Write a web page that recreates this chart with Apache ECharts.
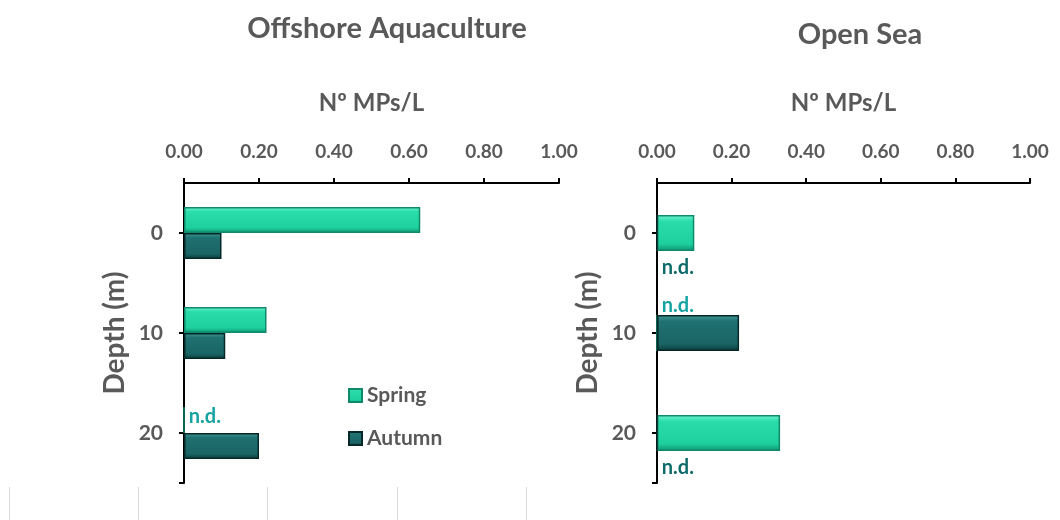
<!DOCTYPE html>
<html>
<head>
<meta charset="utf-8">
<title>Microplastics by depth</title>
<script src="https://cdn.jsdelivr.net/npm/echarts@6/dist/echarts.min.js"></script>
<style>
  html, body { margin: 0; padding: 0; background: #ffffff; }
  #chart { width: 1060px; height: 520px; }
</style>
</head>
<body>
<div id="chart"></div>
<script>
// Depth levels (m) and microplastic concentrations (Nº MPs/L).
// A value of 0 means not detected and is labelled "n.d.".
const depths = ['0', '10', '20'];
const seasons = ['Spring', 'Autumn'];
const aquacultureSpring = [0.63, 0.22, 0];
const aquacultureAutumn = [0.10, 0.11, 0.20];
const openSeaSpring = [0.10, 0, 0.33];
const openSeaAutumn = [0, 0.22, 0];
const panelTitles = ['Offshore Aquaculture', 'Open Sea'];
const xTickLabels = ['0.00', '0.20', '0.40', '0.60', '0.80', '1.00'];

const FONT = 'Lato';
const GREY = '#595959';

const springFill = new echarts.graphic.LinearGradient(0, 0, 0, 1, [
  { offset: 0, color: '#72f3d0' },
  { offset: 0.18, color: '#2bdcab' },
  { offset: 0.8, color: '#1dd09e' },
  { offset: 1, color: '#0f9070' }
]);
const autumnFill = new echarts.graphic.LinearGradient(0, 0, 0, 1, [
  { offset: 0, color: '#44999a' },
  { offset: 0.18, color: '#1f7171' },
  { offset: 0.8, color: '#1a6464' },
  { offset: 1, color: '#0a3b3b' }
]);

const grids = [
  { left: 184, top: 183, width: 375, height: 300 },
  { left: 657, top: 183, width: 373, height: 300 },
  // worksheet cell borders showing below the chart area
  { left: 9, top: 487, width: 517, height: 33 }
];

function valueAxis(gridIndex) {
  return {
    type: 'value', gridIndex: gridIndex, position: 'top',
    min: 0, max: 1, interval: 0.2,
    name: 'Nº MPs/L', nameLocation: 'middle', nameGap: 68,
    nameTextStyle: { fontFamily: FONT, fontWeight: 'bold', fontSize: 24, color: GREY },
    axisLine: { show: true, lineStyle: { color: '#000', width: 2 } },
    axisTick: { show: true, length: 5, lineStyle: { color: '#000', width: 2 } },
    axisLabel: {
      margin: 22, fontFamily: FONT, fontWeight: 'bold', fontSize: 19, color: GREY,
      formatter: function (v) { return xTickLabels[Math.round(v / 0.2)]; }
    },
    splitLine: { show: false }
  };
}

function depthAxis(gridIndex) {
  return {
    type: 'category', gridIndex: gridIndex, data: depths, inverse: true, position: 'left',
    name: 'Depth (m)', nameLocation: 'middle', nameGap: 55, nameRotate: 90,
    nameTextStyle: { fontFamily: FONT, fontWeight: 'bold', fontSize: 28, color: GREY },
    axisLine: { show: true, lineStyle: { color: '#000', width: 2 } },
    axisTick: { show: false },
    axisLabel: { margin: 21, fontFamily: FONT, fontWeight: 'bold', fontSize: 21, color: GREY }
  };
}

// Helper axis splitting the depth axis into half steps (points on the edges):
// ticks sit at each depth and at the bottom end.
function depthTickAxis(gridIndex) {
  return {
    type: 'category', gridIndex: gridIndex, position: 'left', inverse: true,
    boundaryGap: false,
    data: ['h0', 'h1', 'h2', 'h3', 'h4', 'h5', 'h6'],
    axisLine: { show: false },
    axisLabel: { show: false },
    axisTick: {
      show: true, length: 5, lineStyle: { color: '#000', width: 2 },
      interval: function (index) { return index % 2 === 1 || index === 6; }
    }
  };
}

function ndLabel(color, offsetY) {
  return {
    show: true, position: 'right', distance: 4, offset: [0, offsetY],
    fontFamily: FONT, fontWeight: 'bold', fontSize: 20, color: color,
    formatter: function (p) { return p.value === 0 ? 'n.d.' : ''; }
  };
}

function barSeries(name, data, axisIndex, fill, border, barWidth, barGap, label) {
  return {
    name: name, type: 'bar', data: data,
    xAxisIndex: axisIndex, yAxisIndex: axisIndex * 2,
    barWidth: barWidth, barGap: barGap,
    itemStyle: { color: fill, borderColor: border, borderWidth: 1.5 },
    label: label,
    emphasis: { disabled: true }
  };
}

const option = {
  backgroundColor: '#ffffff',
  animation: false,
  title: [
    { text: panelTitles[0], left: 382, top: 9, textAlign: 'center',
      textStyle: { fontFamily: FONT, fontWeight: 'bold', fontSize: 29, color: GREY } },
    { text: panelTitles[1], left: 855, top: 15, textAlign: 'center',
      textStyle: { fontFamily: FONT, fontWeight: 'bold', fontSize: 29, color: GREY } }
  ],
  legend: {
    data: seasons, orient: 'vertical', left: 348, top: 385, padding: 0,
    itemWidth: 13, itemHeight: 13, itemGap: 22, itemTextGap: 10, icon: 'rect',
    textStyle: { fontFamily: FONT, fontWeight: 'bold', fontSize: 21, color: GREY }
  },
  grid: grids,
  xAxis: [
    valueAxis(0),
    valueAxis(1),
    {
      type: 'value', gridIndex: 2, min: 0, max: 4, interval: 1,
      axisLine: { show: false }, axisTick: { show: false }, axisLabel: { show: false },
      splitLine: { show: true, lineStyle: { color: '#d9d9d9', width: 1 } }
    }
  ],
  yAxis: [
    depthAxis(0), depthTickAxis(0),
    depthAxis(1), depthTickAxis(1),
    { type: 'value', gridIndex: 2, show: false }
  ],
  series: [
    barSeries(seasons[0], aquacultureSpring, 0, springFill, '#0e8a6b', 26, '0%', ndLabel('#17a3a3', -3)),
    barSeries(seasons[1], aquacultureAutumn, 0, autumnFill, '#072828', 26, '0%', ndLabel('#0f6b6b', 0)),
    barSeries(seasons[0], openSeaSpring, 1, springFill, '#0e8a6b', 36, '-100%', ndLabel('#17a3a3', -27)),
    barSeries(seasons[1], openSeaAutumn, 1, autumnFill, '#072828', 36, '-100%', ndLabel('#0f6b6b', 35))
  ]
};

const chart = echarts.init(document.getElementById('chart'), null, { renderer: 'canvas' });
chart.setOption(option);
</script>
</body>
</html>
